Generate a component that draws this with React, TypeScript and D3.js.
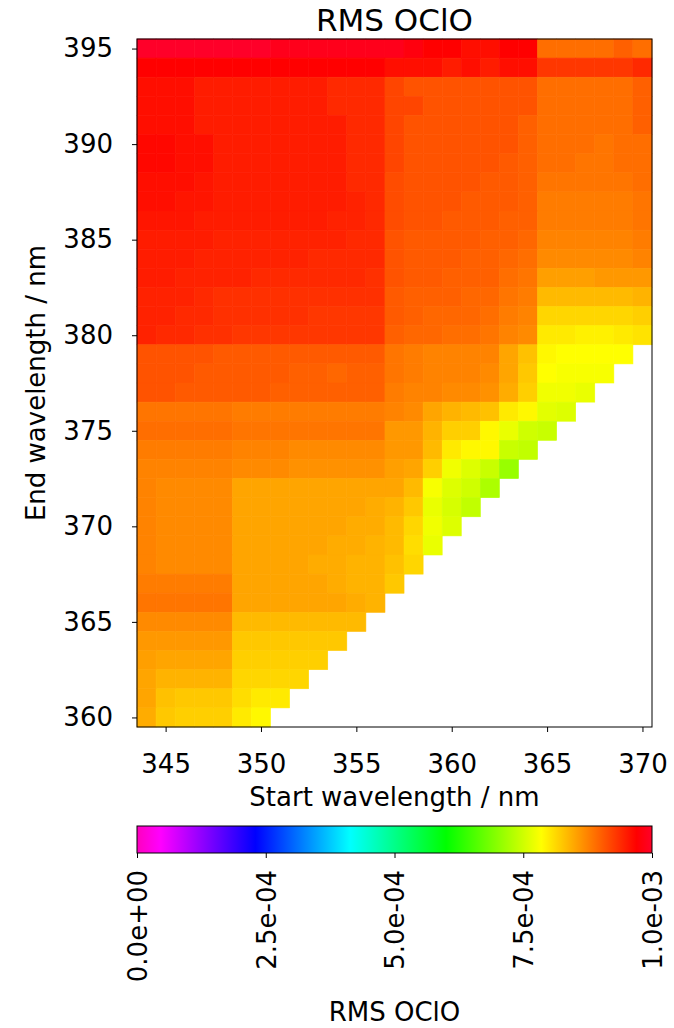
import React, { useEffect, useRef } from 'react';
import * as d3 from 'd3';

// fit window start (columns) and end (rows) wavelengths, nm
const startWavelengths = [344, 345, 346, 347, 348, 349, 350, 351, 352, 353, 354, 355, 356, 357, 358, 359, 360, 361, 362, 363, 364, 365, 366, 367, 368, 369, 370];
const endWavelengths = [395, 394, 393, 392, 391, 390, 389, 388, 387, 386, 385, 384, 383, 382, 381, 380, 379, 378, 377, 376, 375, 374, 373, 372, 371, 370, 369, 368, 367, 366, 365, 364, 363, 362, 361, 360];

// RMS OClO in units of 1e-5, one row per end wavelength, values from start = 344 nm upward
const rmsRows = [
  [100, 100, 100, 100, 100, 100, 100, 99, 99, 99, 99, 99, 99, 99, 98, 97, 97, 96, 96, 97, 97, 89, 89, 89, 89, 90, 89],
  [97, 97, 97, 97, 97, 97, 97, 97, 97, 97, 97, 97, 97, 96, 96, 96, 95, 96, 95, 96, 96, 93, 93, 93, 93, 93, 94],
  [96, 96, 96, 95, 95, 95, 95, 95, 95, 95, 94, 94, 94, 92, 91, 91, 91, 91, 91, 91, 91, 89, 89, 89, 89, 89, 90],
  [96, 96, 96, 95, 95, 95, 95, 95, 95, 95, 94, 94, 94, 92, 92, 91, 91, 91, 91, 91, 91, 89, 89, 89, 89, 89, 90],
  [96, 96, 96, 95, 95, 95, 95, 95, 95, 95, 95, 94, 94, 92, 91, 91, 91, 91, 91, 91, 90, 89, 89, 89, 89, 89, 90],
  [96.5, 96.5, 96, 96, 95, 95, 95, 95, 95, 95, 95, 94, 94, 92, 91, 91, 91, 91, 91, 91, 90, 89, 89, 89, 88.5, 89, 89],
  [96.5, 96.5, 96, 96, 95, 95, 95, 95, 95, 95, 95, 94, 94, 92, 91, 91, 91, 91, 91, 90.5, 90, 89, 89, 88.5, 88.5, 89, 89],
  [96, 96, 96, 95.5, 95, 95, 95, 95, 95, 95, 95, 94, 94, 91.5, 91, 91, 91, 91, 90.5, 90.5, 90, 88.5, 88.5, 88.5, 88.5, 88.5, 89],
  [96, 96, 95.5, 95.5, 95, 95, 95, 95, 95, 95, 95, 94.5, 94, 91.5, 91, 91, 91, 90.5, 90.5, 90.5, 90, 88, 88, 88, 88, 88, 88.5],
  [95.5, 95.5, 95.5, 95, 95, 95, 95, 95, 95, 95, 94.5, 94.5, 94, 91.5, 91, 91, 90.5, 90.5, 90.5, 90, 90, 88, 88, 88, 88, 88, 88.5],
  [95, 95, 95, 95, 94.5, 94.5, 94.5, 94.5, 94.5, 94.5, 94.5, 94, 94, 91, 90.5, 90.5, 90.5, 90.5, 90, 90, 89.5, 87.5, 87.5, 87.5, 87.5, 87.5, 88],
  [95, 95, 95, 94.5, 94.5, 94.5, 94.5, 94.5, 94.5, 94, 94, 94, 94, 91, 90.5, 90.5, 90.5, 90, 90, 89.5, 89, 87, 87, 87, 87, 87, 87.5],
  [95, 95, 94.5, 94.5, 94.5, 94.5, 94, 94, 94, 94, 94, 94, 93.5, 91, 90.5, 90.5, 90, 90, 90, 89, 88.5, 85.5, 85.5, 85.5, 86, 86, 86],
  [94.5, 94.5, 94.5, 94, 93.5, 93.5, 93.5, 93.5, 93.5, 93.5, 93.5, 93.5, 93.5, 90.5, 90, 90, 90, 89.5, 89.5, 88.5, 88, 83.5, 83.5, 83.5, 83.5, 83.5, 84],
  [94.5, 94.5, 94, 94, 93.5, 93.5, 93.5, 93.5, 93.5, 93, 93, 93, 93, 90.5, 90, 89.5, 89.5, 89.5, 89, 88, 87.5, 81.5, 81.5, 81.5, 81.5, 81.5, 82],
  [94.5, 94, 94, 93.5, 93.5, 93, 93, 93, 93, 93, 93, 93, 93, 90, 89.5, 89.5, 89, 89, 88.5, 87.5, 87, 80, 80, 79.5, 79.5, 80, 80.5],
  [91, 91, 91, 91, 90.5, 90.5, 90.5, 90.5, 90.5, 90.5, 90.5, 90.5, 90.5, 88.5, 88, 87.5, 87.5, 87.5, 87.5, 85, 83, 79, 78.5, 78.5, 78.5, 78.5],
  [91, 91, 91, 90.5, 90.5, 90.5, 90.5, 90.5, 90, 90, 89.5, 90, 90, 88.5, 88, 87.5, 87.5, 87.5, 87, 85, 82.5, 78.5, 78, 78, 78],
  [91, 91, 90.5, 90.5, 90.5, 90.5, 90.5, 90, 90, 90, 90, 90, 90, 88, 87.5, 87.5, 87, 87, 86.5, 84.5, 82, 77.5, 77.5, 77],
  [88.5, 88.5, 88.5, 88.5, 88.5, 88, 88, 88, 88, 88, 88, 88, 88, 87.5, 87, 85, 84, 83.5, 83, 80, 79, 76.5, 76],
  [89, 89, 89, 89, 89, 88.5, 88.5, 88.5, 88.5, 88.5, 88.5, 88.5, 88.5, 86, 86, 84, 82, 82, 79, 77, 75, 74.5],
  [88, 88, 88, 88, 88, 87.5, 87.5, 87.5, 87, 87, 87, 87, 87, 86, 86, 83.5, 80, 79, 79, 74.5, 74],
  [87.5, 87.5, 87.5, 87.5, 87.5, 87, 87, 87, 86.5, 86.5, 86.5, 86.5, 86.5, 85.5, 85, 82, 77.5, 76, 74.5, 71],
  [87.5, 87, 87, 87, 87, 85, 85, 85, 85, 85, 85, 85, 85, 85, 83.5, 78, 76, 75, 72.5],
  [87.5, 87, 87, 87, 87, 85, 85, 85, 85, 85, 85, 85, 84.5, 84, 82.5, 77, 75.5, 74],
  [87.5, 87, 87, 87, 87, 85, 85, 85, 85, 85, 85, 84.5, 84.5, 83.5, 81.5, 77.5, 76],
  [87.5, 87, 87, 87, 87, 85, 85, 85, 85, 85, 84.5, 84.5, 84, 83.5, 81, 77],
  [87.5, 87, 87, 87, 87, 85, 85, 85, 85, 84.5, 84.5, 84, 84, 83, 81.5],
  [88, 88, 88, 88, 88, 85, 85, 85, 85, 85, 84.5, 84, 84, 82.5],
  [88.5, 88.5, 88.5, 88.5, 88.5, 85, 85, 85, 85, 85, 85, 84.5, 84],
  [87, 87, 87, 87, 87, 83.5, 83.5, 83.5, 83.5, 83.5, 83.5, 83.5],
  [86, 86, 86, 86, 86, 82.5, 82.5, 82.5, 82.5, 82.5, 82.5],
  [85.5, 85, 85, 85, 85, 82, 82, 82, 82, 82],
  [85, 84, 84, 84, 84, 81.5, 81.5, 81.5, 81.5],
  [85, 83, 82.5, 82.5, 82.5, 81, 80, 80],
  [84.5, 82.5, 82, 82, 82, 80, 79],
];

const xTicks = [345, 350, 355, 360, 365, 370];
const yTicks = [360, 365, 370, 375, 380, 385, 390, 395];
const colorbarTicks = [0, 2.5e-4, 5e-4, 7.5e-4, 1e-3];

// gist_rainbow_r anchor points (fraction of range) and colours
const cmapStops = [0, 0.046, 0.23, 0.414, 0.6, 0.785, 0.97, 1];
const cmapColors = ['#ff00bf', '#ff00ff', '#0000ff', '#00ffff', '#00ff00', '#ffff00', '#ff0000', '#ff0029'];

const vmin = 0;
const vmax = 1e-3;

const FONT = 'DejaVu Sans, sans-serif';

const sciFormat = (v: number) => {
  const [m, e] = v.toExponential(1).split('e');
  return `${m}e${e[0]}${e.slice(1).padStart(2, '0')}`;
};

const App = () => {
  const ref = useRef<SVGSVGElement>(null);

  useEffect(() => {
    const width = 674;
    const height = 1028;
    const plot = { left: 137, right: 652, top: 39, bottom: 727 };
    const cbar = { top: 826, bottom: 853 };

    const svg = d3.select(ref.current)
      .attr('width', width)
      .attr('height', height);

    svg.selectAll('*').remove();

    const x = d3.scaleLinear()
      .domain([343.5, 370.5])
      .range([plot.left, plot.right]);

    const y = d3.scaleLinear()
      .domain([359.5, 395.5])
      .range([plot.bottom, plot.top]);

    const color = d3.scaleLinear<string>()
      .domain(cmapStops.map(s => vmin + s * (vmax - vmin)))
      .range(cmapColors)
      .interpolate(d3.interpolateRgb)
      .clamp(true);

    // flatten the grid into cells
    const cells = [];
    rmsRows.forEach((row, i) => {
      row.forEach((v, j) => {
        cells.push({ start: startWavelengths[j], end: endWavelengths[i], value: v * 1e-5 });
      });
    });

    svg.append('g')
      .selectAll('rect')
      .data(cells)
      .enter().append('rect')
      .attr('x', d => x(d.start - 0.5))
      .attr('y', d => y(d.end + 0.5))
      .attr('width', d => x(d.start + 0.5) - x(d.start - 0.5))
      .attr('height', d => y(d.end - 0.5) - y(d.end + 0.5))
      .attr('fill', d => color(d.value))
      .attr('stroke', d => color(d.value))
      .attr('stroke-width', 0.6);

    // frame
    svg.append('rect')
      .attr('x', plot.left)
      .attr('y', plot.top)
      .attr('width', plot.right - plot.left)
      .attr('height', plot.bottom - plot.top)
      .attr('fill', 'none')
      .attr('stroke', '#000')
      .attr('stroke-width', 1);

    const styleAxis = g => {
      g.select('.domain').remove();
      g.selectAll('line').attr('stroke', '#000').attr('stroke-width', 1);
      g.selectAll('text')
        .attr('fill', '#000')
        .style('font-family', FONT)
        .style('font-size', '26px');
    };

    // x axis
    svg.append('g')
      .attr('transform', `translate(0,${plot.bottom})`)
      .call(d3.axisBottom(x).tickValues(xTicks).tickSize(5).tickPadding(23).tickFormat(d3.format('d')))
      .call(styleAxis);

    // y axis
    svg.append('g')
      .attr('transform', `translate(${plot.left},0)`)
      .call(d3.axisLeft(y).tickValues(yTicks).tickSize(5).tickPadding(19).tickFormat(d3.format('d')))
      .call(styleAxis);

    // title and axis labels
    svg.append('text')
      .attr('x', (plot.left + plot.right) / 2)
      .attr('y', 31)
      .attr('text-anchor', 'middle')
      .style('font-family', FONT)
      .style('font-size', '31px')
      .text('RMS OClO');

    svg.append('text')
      .attr('x', (plot.left + plot.right) / 2)
      .attr('y', 806)
      .attr('text-anchor', 'middle')
      .style('font-family', FONT)
      .style('font-size', '26px')
      .text('Start wavelength / nm');

    svg.append('text')
      .attr('transform', `translate(45,${(plot.top + plot.bottom) / 2}) rotate(-90)`)
      .attr('text-anchor', 'middle')
      .style('font-family', FONT)
      .style('font-size', '26px')
      .text('End wavelength / nm');

    // colorbar
    const grad = svg.append('defs')
      .append('linearGradient')
      .attr('id', 'cmap')
      .attr('x1', '0%').attr('x2', '100%')
      .attr('y1', '0%').attr('y2', '0%');

    cmapStops.forEach((s, i) => {
      grad.append('stop')
        .attr('offset', `${s * 100}%`)
        .attr('stop-color', cmapColors[i]);
    });

    const cb = d3.scaleLinear()
      .domain([vmin, vmax])
      .range([plot.left, plot.right]);

    svg.append('rect')
      .attr('x', plot.left)
      .attr('y', cbar.top)
      .attr('width', plot.right - plot.left)
      .attr('height', cbar.bottom - cbar.top)
      .attr('fill', 'url(#cmap)')
      .attr('stroke', '#000')
      .attr('stroke-width', 1);

    const cbAxis = svg.append('g')
      .attr('transform', `translate(0,${cbar.bottom})`)
      .call(d3.axisBottom(cb).tickValues(colorbarTicks).tickSize(5).tickFormat(sciFormat))
      .call(styleAxis);

    cbAxis.selectAll('text')
      .attr('transform', 'rotate(-90)')
      .attr('text-anchor', 'end')
      .attr('x', -17)
      .attr('y', 0)
      .attr('dy', '0.36em');

    svg.append('text')
      .attr('x', (plot.left + plot.right) / 2)
      .attr('y', 1021)
      .attr('text-anchor', 'middle')
      .style('font-family', FONT)
      .style('font-size', '26px')
      .text('RMS OClO');
  }, []);

  return (
    <svg ref={ref} style={{ position: 'absolute', left: 0, top: 0, background: '#fff' }}></svg>
  );
};

export default App;
